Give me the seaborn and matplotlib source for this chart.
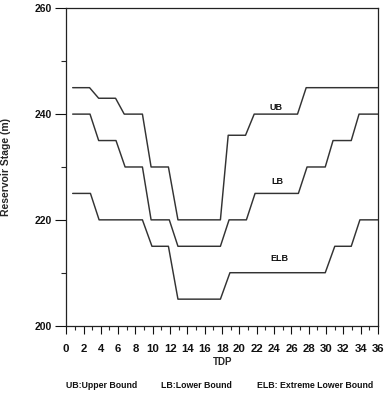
import numpy as np
import pandas as pd
import matplotlib
matplotlib.use('Agg')
import matplotlib.pyplot as plt
import seaborn as sns
from matplotlib.ticker import MultipleLocator

# Rule curves (TDP vs reservoir stage in m)
ub_tdp = [0.75, 2.7, 3.75, 5.7, 6.7, 8.8, 9.8, 11.8, 12.9, 17.8, 18.7, 20.7, 21.7, 26.7, 27.7, 36]
ub_stage = [245, 245, 243, 243, 240, 240, 230, 230, 220, 220, 236, 236, 240, 240, 245, 245]

lb_tdp = [0.75, 2.75, 3.75, 5.75, 6.8, 8.8, 9.8, 11.9, 12.9, 17.8, 18.8, 20.8, 21.8, 26.8,
          27.8, 29.9, 30.8, 32.9, 33.8, 36]
lb_stage = [240, 240, 235, 235, 230, 230, 220, 220, 215, 215, 220, 220, 225, 225,
            230, 230, 235, 235, 240, 240]

elb_tdp = [0.75, 2.8, 3.8, 8.8, 9.9, 11.8, 12.9, 17.8, 18.9, 29.9, 31, 32.9, 33.9, 36]
elb_stage = [225, 225, 220, 220, 215, 215, 205, 205, 210, 210, 215, 215, 220, 220]

curve_names = ['UB', 'LB', 'ELB']
label_tdp = [24.2, 24.4, 24.65]
label_stage = [241.3, 227.3, 212.6]
notes = ['UB:Upper Bound', 'LB:Lower Bound', 'ELB: Extreme Lower Bound']

sns.set_theme(style='ticks')
plt.rcParams['font.family'] = ['Liberation Sans', 'DejaVu Sans']

fig = plt.figure(figsize=(3.87, 3.99), dpi=100)
ax = fig.add_axes([0.171, 0.184, 0.806, 0.795])

curves = [(ub_tdp, ub_stage), (lb_tdp, lb_stage), (elb_tdp, elb_stage)]
for name, (x, y) in zip(curve_names, curves):
    df = pd.DataFrame({'TDP': x, 'stage': y})
    sns.lineplot(ax=ax, data=df, x='TDP', y='stage', sort=False, estimator=None,
                 color='#333333', lw=1.05)

for name, x, y in zip(curve_names, label_tdp, label_stage):
    ax.text(x, y, name, fontsize=6.5, fontweight='bold', ha='center', va='center', color='#111')

ax.set_xlim(0, 36)
ax.set_ylim(200, 260)
ax.xaxis.set_major_locator(MultipleLocator(2))
ax.xaxis.set_minor_locator(MultipleLocator(1))
ax.yaxis.set_major_locator(MultipleLocator(20))
ax.yaxis.set_minor_locator(MultipleLocator(10))
ax.tick_params(axis='x', which='major', length=6, width=0.8, direction='out',
               labelsize=8.2, pad=7.5, colors='#111')
ax.tick_params(axis='x', which='minor', length=3, width=0.8, direction='out')
ax.tick_params(axis='y', which='major', length=8, width=0.8, direction='out',
               labelsize=7.5, pad=2, colors='#111')
ax.tick_params(axis='y', which='minor', length=3.5, width=0.8, direction='out')
for lab in ax.get_xticklabels() + ax.get_yticklabels():
    lab.set_fontweight('bold')

for s in ax.spines.values():
    s.set_visible(True)
    s.set_linewidth(0.9)
    s.set_color('#222')

ax.set_xlabel('TDP', fontsize=7, fontweight='bold', labelpad=2)
ax.set_ylabel('Reservoir Stage (m)', fontsize=7.5, fontweight='bold', labelpad=17)

note_x = [102, 196, 315]
for nx, txt in zip(note_x, notes):
    fig.text(nx / 387, 1 - 385 / 399, txt, fontsize=6.3, fontweight='bold',
             ha='center', va='center', color='#111')

fig.savefig('out.png', dpi=100)
